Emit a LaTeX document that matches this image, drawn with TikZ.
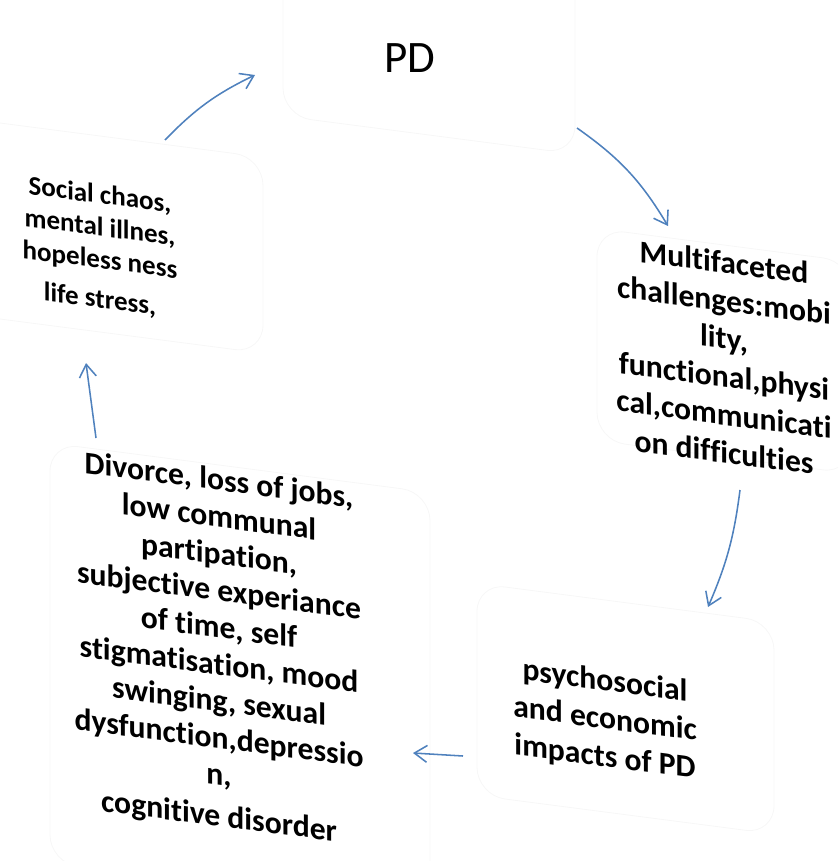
\documentclass[tikz,border=0pt]{standalone}
\usepackage{fontspec}
\setmainfont{Carlito}[Ligatures=NoCommon]
\usetikzlibrary{arrows.meta}

\definecolor{cycleblue}{HTML}{4F81BD}

\tikzset{
    cyclearrow/.style={draw=cycleblue, line width=1.1pt, -{Straight Barb[length=9pt, width=12pt]}},
    faintbox/.style={draw=black!3, line width=0.6pt, rounded corners=20pt},
    bigtext/.style={transform shape, align=center, inner sep=0pt, font=\bfseries\fontsize{22.5}{27}\selectfont},
    smalltext/.style={transform shape, align=center, inner sep=0pt, font=\bfseries\fontsize{19.2}{23.1}\selectfont}
}

\begin{document}
\begin{tikzpicture}[x=0.025cm, y=-0.025cm]
        \useasboundingbox (0,0) rectangle (838,861);
        \clip (0,0) rectangle (838,861);

        % PD
        \begin{scope}[shift={(429,40)}, yslant=-0.13]
            \draw[faintbox] (-146,-130) rectangle (146,95);
        \end{scope}
        \node (pd) at (410,58) {\fontsize{32}{38}\selectfont PD};

        % Multifaceted challenges
        \begin{scope}[shift={(724,357)}, yslant=-0.13]
            \draw[faintbox] (-127,-112) rectangle (127,100);
            \node[bigtext] (multi) at (0,0) {Multifaceted\\challenges:mobi\\lity,\\functional,physi\\cal,communicati\\on difficulties};
        \end{scope}

        % psychosocial impacts
        \begin{scope}[shift={(605,720)}, yslant=-0.13]
            \draw[faintbox] (-128,-120) rectangle (169,92);
            \node[bigtext] (impacts) at (0,0) {psychosocial\\and economic\\impacts of PD};
        \end{scope}

        % Divorce ...
        \begin{scope}[shift={(219,650)}, yslant=-0.13]
            \draw[faintbox] (-169,-185) rectangle (211,235);
            \node[bigtext, font=\bfseries\fontsize{22.5}{26.2}\selectfont] (divorce) at (0,0) {Divorce, loss of jobs,\\low communal\\partipation,\\subjective experiance\\of time, self\\stigmatisation, mood\\swinging, sexual\\dysfunction,depressio\\n,\\[3pt]cognitive disorder};
        \end{scope}

        % Social chaos ...
        \begin{scope}[shift={(100,248)}, yslant=-0.13]
            \draw[faintbox] (-170,-112) rectangle (163,84);
            \node[smalltext] (chaos) at (0,0) {Social chaos,\\mental illnes,\\hopeless ness\\[5pt]life stress,};
        \end{scope}

        \coordinate (pdout) at (577,128);
        \coordinate (multiin) at (668,226);
        \coordinate (multiout) at (740,490);
        \coordinate (impactsin) at (708,607);
        \coordinate (impactsout) at (463,756);
        \coordinate (divorcein) at (413,753);
        \coordinate (divorceout) at (96,438);
        \coordinate (chaosin) at (86,363);
        \coordinate (chaosout) at (165,140);
        \coordinate (pdin) at (255,75);

        \draw[cyclearrow] (pdout) to[bend left=12] (multiin);
        \draw[cyclearrow] (multiout) to[bend left=8] (impactsin);
        \draw[cyclearrow] (impactsout) -- (divorcein);
        \draw[cyclearrow] (divorceout) -- (chaosin);
        \draw[cyclearrow] (chaosout) to[bend left=10] (pdin);
\end{tikzpicture}
\end{document}
